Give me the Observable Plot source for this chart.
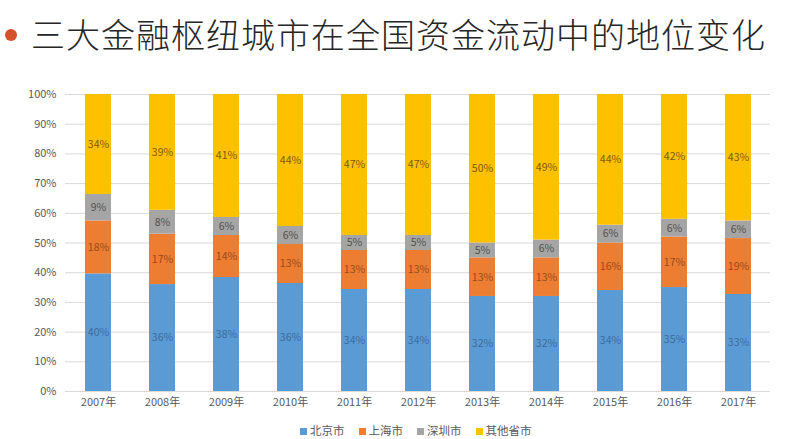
<!DOCTYPE html>
<html><head><meta charset="utf-8">
<script src="https://cdn.jsdelivr.net/npm/d3@7"></script>
<script src="https://cdn.jsdelivr.net/npm/@observablehq/plot@0.6"></script>
<style>
body{margin:0;background:#fff;font-family:"Noto Sans CJK SC","Noto Sans",sans-serif;width:788px;height:439px;overflow:hidden;}
#title{position:relative;height:76px;}
#title .dot{position:absolute;left:5px;top:29px;width:12px;height:12px;border-radius:50%;background:#d5512a;}
#title .txt{position:absolute;left:31px;top:10px;font-size:34px;line-height:48px;color:#262626;font-weight:300;white-space:nowrap;letter-spacing:1px;}
#chart svg{display:block;}
#legend{height:18px;display:flex;gap:14px;padding-left:300px;font-size:11.5px;color:#595959;align-items:center;}
#legend span.sw{display:inline-block;width:7px;height:7px;margin-right:3px;vertical-align:middle;}
</style></head><body>
<div id="title"><span class="dot"></span><span class="txt">三大金融枢纽城市在全国资金流动中的地位变化</span></div>
<div id="chart"></div>
<div id="legend"></div>
<script>
const years = ["2007年","2008年","2009年","2010年","2011年","2012年","2013年","2014年","2015年","2016年","2017年"];
const seriesNames = ["北京市","上海市","深圳市","其他省市"];
const beijing  = [40,36,38,36,34,34,32,32,34,35,33];
const shanghai = [18,17,14,13,13,13,13,13,16,17,19];
const shenzhen = [9,8,6,6,5,5,5,6,6,6,6];
const others   = [34,39,41,44,47,47,50,49,44,42,43];
const colors = ["#5b9bd5","#ed7d31","#a5a5a5","#ffc000"];
const labelColors = ["#3d6b9c","#9a4a1c","#505050","#7a5c00"];
const yTicks = [0,0.1,0.2,0.3,0.4,0.5,0.6,0.7,0.8,0.9,1];

const seriesValues = [beijing, shanghai, shenzhen, others];
const data = [];
seriesNames.forEach((s, si) => {
  years.forEach((y, yi) => data.push({year: y, series: s, value: seriesValues[si][yi]}));
});

const stackOpts = {x: "year", y: "value", z: "series", offset: "normalize", order: seriesNames};

const marks = [
  Plot.gridY(yTicks, {stroke: "#d9d9d9", strokeOpacity: 1}),
  Plot.barY(data, Plot.stackY({...stackOpts, fill: "series"})),
];
seriesNames.forEach((s, si) => {
  marks.push(Plot.text(data, Plot.stackY({...stackOpts, text: d => d.series === s ? d.value + "%" : "", fill: labelColors[si], fontSize: 10.5})));
});
marks.push(Plot.axisY(yTicks, {tickFormat: d3.format(".0%"), tickSize: 0, tickPadding: 9, fontSize: 11, fill: "#595959"}));
marks.push(Plot.axisX({tickSize: 0, tickPadding: 7, fontSize: 11, fill: "#595959", label: null}));

const chart = Plot.plot({
  width: 788,
  height: 345,
  marginTop: 18,
  marginBottom: 30,
  marginLeft: 65,
  marginRight: 18,
  style: {fontFamily: '"Noto Sans CJK SC","Noto Sans",sans-serif', background: "#fff"},
  x: {domain: years, paddingInner: 0.6, paddingOuter: 0.3, label: null},
  y: {domain: [0, 1], label: null},
  color: {domain: seriesNames, range: colors},
  marks
});
document.getElementById("chart").appendChild(chart);

const legend = document.getElementById("legend");
seriesNames.forEach((s, i) => {
  const el = document.createElement("span");
  el.innerHTML = `<span class="sw" style="background:${colors[i]}"></span>${s}`;
  legend.appendChild(el);
});
</script>
</body></html>
